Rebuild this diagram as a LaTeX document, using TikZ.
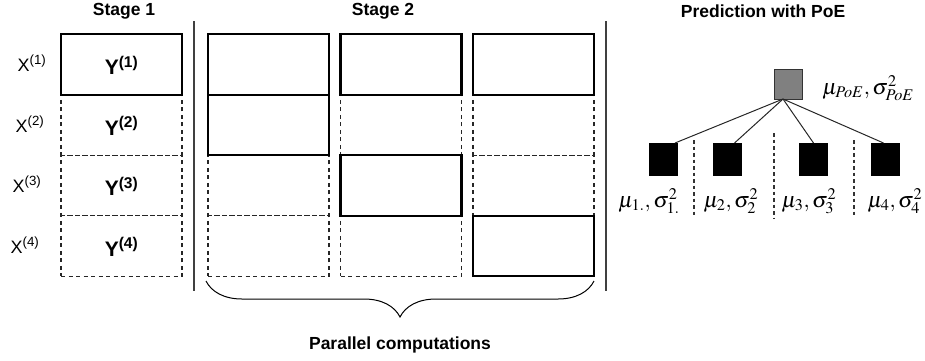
\documentclass[tikz,border=0pt]{standalone}
\usepackage{mathptmx}
\usepackage{fontspec}
\setmainfont{Liberation Sans}
\usetikzlibrary{decorations.pathreplacing,calc}
\begin{document}
\begin{tikzpicture}[x=1pt,y=-1pt,
  cell/.style={draw=black,minimum width=121pt,minimum height=60.5pt,inner sep=0pt,outer sep=0pt},
  solidcell/.style={cell,line width=2.4pt},
  dashcell/.style={cell,line width=1.1pt,dash pattern=on 4pt off 3.5pt,draw=black!85},
  sep/.style={draw=black!75,line width=1.4pt},
  head/.style={font=\fontsize{17.5}{20}\selectfont\bfseries,inner sep=0pt},
  xlab/.style={font=\fontsize{18}{21}\selectfont,inner sep=0pt},
  ylab/.style={font=\fontsize{21}{24}\selectfont\bfseries,inner sep=0pt},
  mlab/.style={font=\fontsize{22}{26}\selectfont,inner sep=0pt},
  expert/.style={draw=black,fill=black,minimum width=28pt,minimum height=32pt,inner sep=0pt,outer sep=0pt},
  poe/.style={draw=black!80,line width=1pt,fill=black!50,minimum width=28pt,minimum height=30pt,inner sep=0pt,outer sep=0pt},
  link/.style={line width=1pt,black!85},
  msep/.style={line width=1.2pt,dash pattern=on 3.5pt off 3pt,black!80}
]
\useasboundingbox (0,0) rectangle (925,360);
% headers
\node[head] (h1) at (124,11) {Stage 1};
\node[head] (h2) at (383,11) {Stage 2};
\node[head] (h3) at (763,11) {Prediction with PoE};
% separators
\coordinate (s1t) at (194,21); \coordinate (s1b) at (194,291);
\coordinate (s2t) at (606,21); \coordinate (s2b) at (606,291);
\draw[sep] (s1t) -- (s1b);
\draw[sep] (s2t) -- (s2b);
% stage 1 cells
\node[dashcell] (a2) at (121.5,125) {};
\node[dashcell] (a3) at (121.5,185.5) {};
\node[dashcell] (a4) at (121.5,246) {};
\node[solidcell] (a1) at (121.5,64.5) {};
% stage 2 dashed cells
\node[dashcell] (b13) at (268.5,185.5) {};
\node[dashcell] (b14) at (268.5,246) {};
\node[dashcell] (b22) at (401,125) {};
\node[dashcell] (b24) at (401,246) {};
\node[dashcell] (b32) at (533.5,125) {};
\node[dashcell] (b33) at (533.5,185.5) {};
% stage 2 solid cells
\node[solidcell] (b11) at (268.5,64.5) {};
\node[solidcell] (b12) at (268.5,125) {};
\node[solidcell] (b21) at (401,64.5) {};
\node[solidcell] (b23) at (401,185.5) {};
\node[solidcell] (b31) at (533.5,64.5) {};
\node[solidcell] (b34) at (533.5,246) {};
% labels
\node[ylab] at ([yshift=-1pt]a1.center) {Y\textsuperscript{(1)}};
\node[ylab] at ([yshift=-1pt]a2.center) {Y\textsuperscript{(2)}};
\node[ylab] at ([yshift=-1pt]a3.center) {Y\textsuperscript{(3)}};
\node[ylab] at ([yshift=-1pt]a4.center) {Y\textsuperscript{(4)}};
\node[xlab] (x1) at (32,63) {X\textsuperscript{(1)}};
\node[xlab] (x2) at (30,124) {X\textsuperscript{(2)}};
\node[xlab] (x3) at (27,184) {X\textsuperscript{(3)}};
\node[xlab] (x4) at (25,245) {X\textsuperscript{(4)}};
% brace
\coordinate (bl) at (206,281); \coordinate (br) at (594,281);
\draw[line width=1pt,decorate,decoration={brace,mirror,amplitude=36pt,aspect=0.5}] (bl) -- (br);
\node[head] (pc) at (400,345) {Parallel computations};
% PoE tree
\node[poe] (p) at (788,84) {};
\node[mlab,anchor=west] (pl) at (822,88) {$\mu_{PoE},\sigma^2_{PoE}$};
\node[expert] (e1) at (663,159) {};
\node[expert] (e2) at (727.5,159) {};
\node[expert] (e3) at (813.5,159) {};
\node[expert] (e4) at (885.5,159) {};
\draw[link] ([xshift=-5pt]p.south) -- ([xshift=12pt]e1.north);
\draw[link] ([xshift=-5pt]p.south) -- ([xshift=7pt]e2.north);
\draw[link] ([xshift=-5pt]p.south) -- ([xshift=0pt]e3.north);
\draw[link] ([xshift=-5pt]p.south) -- ([xshift=-2pt]e4.north);
\coordinate (d1t) at (694,140); \coordinate (d1b) at (694,215);
\coordinate (d2t) at (774,133); \coordinate (d2b) at (774,219);
\coordinate (d3t) at (854,140); \coordinate (d3b) at (854,215);
\draw[msep] (d1t) -- (d1b);
\draw[msep] (d2t) -- (d2b);
\draw[msep] (d3t) -- (d3b);
\node[mlab] (l1) at (649,201) {$\mu_{1.},\sigma^2_{1.}$};
\node[mlab] (l2) at (731,201) {$\mu_2,\sigma^2_2$};
\node[mlab] (l3) at (809,201) {$\mu_3,\sigma^2_3$};
\node[mlab] (l4) at (895,201) {$\mu_4,\sigma^2_4$};
\end{tikzpicture}
\end{document}
